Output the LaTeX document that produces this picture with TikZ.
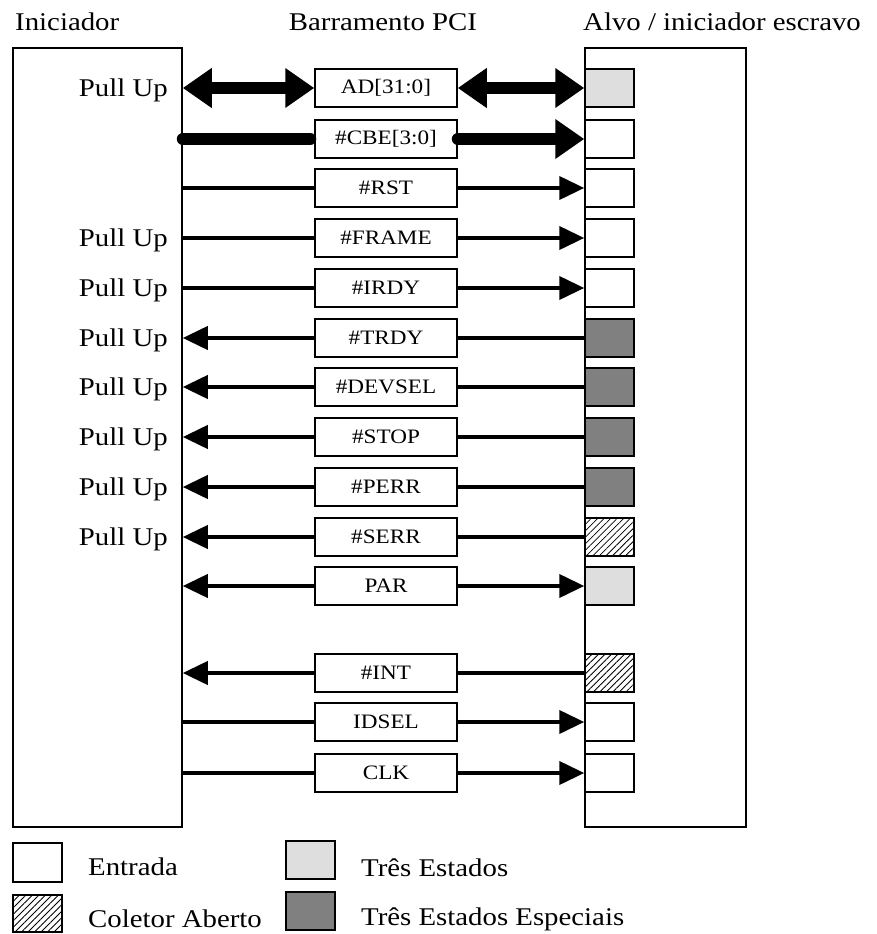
\documentclass[tikz,border=0pt]{standalone}
\usepackage{fontspec}
\setmainfont{Liberation Serif}[FakeStretch=1.13]
\usetikzlibrary{arrows.meta,patterns.meta}

\definecolor{trigray}{RGB}{222,222,222}
\definecolor{spcgray}{RGB}{128,128,128}

\tikzset{
  big/.style={draw, line width=1.5pt, fill=white, inner sep=0pt},
  sigbox/.style={draw, line width=1.5pt, fill=white, inner sep=0pt,
    minimum width=142pt, minimum height=38pt,
    font=\fontsize{20.5}{24}\selectfont},
  sq/.style={draw, line width=1.5pt, inner sep=0pt,
    minimum width=49pt, minimum height=38pt},
  pin-in/.style={fill=white},
  pin-tri/.style={fill=trigray},
  pin-spc/.style={fill=spcgray},
  pin-oc/.style={pattern={Lines[angle=45,distance=4.6pt,line width=0.8pt]}},
  lab/.style={inner sep=0pt, font=\fontsize{25.5}{30}\selectfont},
  sig/.style={line width=4pt},
  bus/.style={line width=12pt},
  thin tip/.style={-{Triangle[length=25pt,width=23pt]}},
  bus tip/.style={-{Triangle[length=29pt,width=38pt]}},
  both bus/.style={{Triangle[length=29pt,width=38pt]}-{Triangle[length=29pt,width=38pt]}},
}

\begin{document}
\begin{tikzpicture}[x=1pt,y=-1pt]
\useasboundingbox (0,0) rectangle (876,934);

% column titles
\node[lab, anchor=base west] (t-init) at (15,31) {Iniciador};
\node[lab, anchor=base] (t-bus) at (383,31) {Barramento PCI};
\node[lab, anchor=base west] (t-tgt) at (583,31) {Alvo / iniciador escravo};

% initiator and target blocks
\node[big, minimum width=169pt, minimum height=779pt] (init) at (97.5,437.5) {};
\node[big, minimum width=161pt, minimum height=779pt] (tgt) at (665.5,437.5) {};

% bus signals with the target's pin type
\foreach \n/\t/\y/\k in {
  ad/AD[31:0]/88/tri,
  cbe/\#CBE[3:0]/139/in,
  rst/\#RST/188/in,
  frame/\#FRAME/238/in,
  irdy/\#IRDY/288/in,
  trdy/\#TRDY/338/spc,
  devsel/\#DEVSEL/387/spc,
  stop/\#STOP/437/spc,
  perr/\#PERR/487/spc,
  serr/\#SERR/537/oc,
  par/PAR/586/tri,
  int/\#INT/673/oc,
  idsel/IDSEL/722/in,
  clk/CLK/773/in}
{
  \node[sigbox] (\n) at (386,\y) {\t};
  \node[sq,pin-\k] (sq-\n) at (609.5,\y) {};
}

% pull-up resistors on the initiator side
\foreach \n in {ad,frame,irdy,trdy,devsel,stop,perr,serr}
  \node[lab, anchor=base east, yshift=-8.5pt] (pu-\n) at (168,0 |- \n.center) {Pull Up};

% address/data bus
\draw[bus, both bus] (init.east |- ad.west) -- (ad.west);
\draw[bus, both bus] (ad.east) -- (sq-ad.west);

% command / byte enable
\draw[bus, line cap=round] (init.east |- cbe.west) -- ([xshift=-4pt]cbe.west);
\draw[bus, line cap=round, bus tip] (cbe.east) -- (sq-cbe.west);

% initiator to target
\foreach \n in {rst,frame,irdy,idsel,clk} {
  \draw[sig] (init.east |- \n.west) -- (\n.west);
  \draw[sig, thin tip] (\n.east) -- (sq-\n.west);
}

% target to initiator
\foreach \n in {trdy,devsel,stop,perr,serr,int} {
  \draw[sig, thin tip] (\n.west) -- (init.east |- \n.west);
  \draw[sig] (sq-\n.west) -- (\n.east);
}

% parity, driven both ways
\draw[sig, thin tip] (par.west) -- (init.east |- par.west);
\draw[sig, thin tip] (par.east) -- (sq-par.west);

% legend
\node[sq, pin-in, minimum width=49pt, minimum height=39pt] (lg-in) at (37.5,862.5) {};
\node[sq, pin-oc, minimum width=49pt, minimum height=37pt] (lg-oc) at (37.5,913.5) {};
\node[sq, pin-tri] (lg-tri) at (310.5,860) {};
\node[sq, pin-spc] (lg-spc) at (310.5,911) {};
\node[lab, anchor=base west] (lt-in) at (88,875) {Entrada};
\node[lab, anchor=base west] (lt-oc) at (88,927) {Coletor Aberto};
\node[lab, anchor=base west] (lt-tri) at (361,876) {Três Estados};
\node[lab, anchor=base west] (lt-spc) at (361,925) {Três Estados Especiais};
\end{tikzpicture}
\end{document}
